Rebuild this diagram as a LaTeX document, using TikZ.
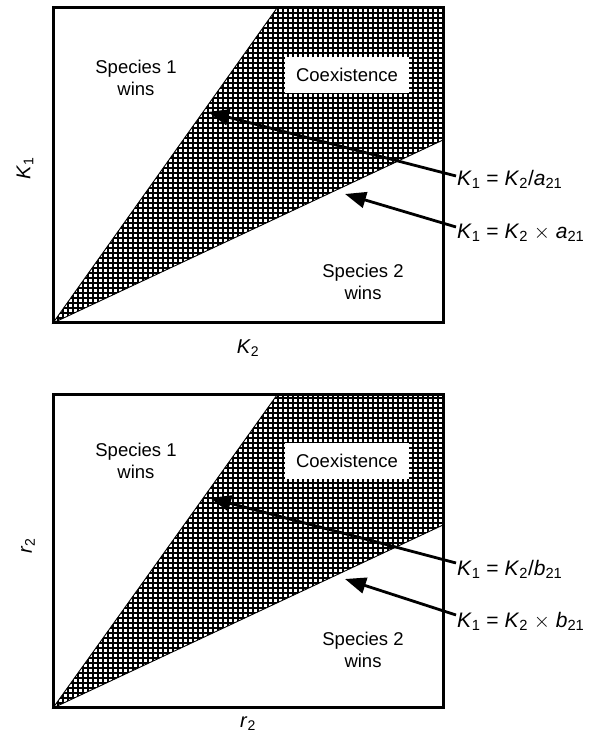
\documentclass[tikz,border=0pt]{standalone}
\usepackage{fontspec}
\setmainfont{Liberation Sans}
\usetikzlibrary{arrows.meta, positioning}

\begin{document}
\begin{tikzpicture}[
    x=1pt, y=1pt,
    region/.style={align=center, inner sep=1pt, font=\fontsize{18.5}{21.5}\selectfont},
    coex/.style={fill=white, inner sep=0pt, minimum width=124pt, minimum height=36pt, font=\fontsize{18.5}{21.5}\selectfont},
    eqn/.style={anchor=west, inner sep=1pt, font=\fontsize{21}{24}\selectfont},
    axis/.style={inner sep=1pt, font=\fontsize{20}{24}\selectfont},
    frame/.style={line width=3pt},
    border/.style={line width=0.9pt},
    hatch/.style={line width=1.5pt},
    pointer/.style={-{Triangle[length=21pt,width=16pt]}, line width=2.8pt}
]
    \useasboundingbox (0,0) rectangle (595,738);

    % Upper panel: K_1 against K_2
    \coordinate (O1) at (53,415);
    \coordinate (T1) at (277,730);
    \coordinate (C1) at (443,730);
    \coordinate (R1) at (443,598);

    \begin{scope}
        \clip (O1) -- (T1) -- (C1) -- (R1) -- cycle;
        \foreach \x in {53,58,...,443} \draw [hatch] (\x,415) -- (\x,730);
        \foreach \y in {415,420,...,730} \draw [hatch] (53,\y) -- (443,\y);
    \end{scope}
    \draw [border] (T1) -- (O1) -- (R1);

    \node (coexA) [coex] at (347,663) {Coexistence};
    \node (sp1A) [region] at (136,660) {Species 1\\wins};
    \node (sp2A) [region] at (363,456) {Species 2\\wins};
    \draw [frame] (53,415) rectangle (443,730);

    \node (eqA1) [eqn] at (456,559) {\textit{K}\textsubscript{1} = \textit{K}\textsubscript{2}/\textit{a}\textsubscript{21}};
    \node (eqA2) [eqn] at (456,505) {\textit{K}\textsubscript{1} = \textit{K}\textsubscript{2} $\times$ \textit{a}\textsubscript{21}};
    \coordinate (tipA1) at (208,626);
    \coordinate (tipA2) at (345,544);
    \draw [pointer] ([yshift=3pt]eqA1.west) -- (tipA1);
    \draw [pointer] ([yshift=6pt]eqA2.west) -- (tipA2);

    \node (xA) [axis] at (248,390) {\textit{K}\textsubscript{2}};
    \node (yA) [axis, rotate=90] at (25,570) {\textit{K}\textsubscript{1}};

    % Lower panel: r_2 against r_2
    \coordinate (O2) at (53,30);
    \coordinate (T2) at (277,343);
    \coordinate (C2) at (443,343);
    \coordinate (R2) at (443,213);

    \begin{scope}
        \clip (O2) -- (T2) -- (C2) -- (R2) -- cycle;
        \foreach \x in {53,58,...,443} \draw [hatch] (\x,30) -- (\x,343);
        \foreach \y in {30,35,...,343} \draw [hatch] (53,\y) -- (443,\y);
    \end{scope}
    \draw [border] (T2) -- (O2) -- (R2);

    \node (coexB) [coex] at (347,277) {Coexistence};
    \node (sp1B) [region] at (136,277) {Species 1\\wins};
    \node (sp2B) [region] at (363,88) {Species 2\\wins};
    \draw [frame] (53,30) rectangle (443,343);

    \node (eqB1) [eqn] at (456,169) {\textit{K}\textsubscript{1} = \textit{K}\textsubscript{2}/\textit{b}\textsubscript{21}};
    \node (eqB2) [eqn] at (456,117) {\textit{K}\textsubscript{1} = \textit{K}\textsubscript{2} $\times$ \textit{b}\textsubscript{21}};
    \coordinate (tipB1) at (210,240);
    \coordinate (tipB2) at (345,159);
    \draw [pointer] ([yshift=6pt]eqB1.west) -- (tipB1);
    \draw [pointer] ([yshift=6pt]eqB2.west) -- (tipB2);

    \node (xB) [axis] at (248,14) {\textit{r}\textsubscript{2}};
    \node (yB) [axis, rotate=90] at (28,192) {\textit{r}\textsubscript{2}};

\end{tikzpicture}
\end{document}
